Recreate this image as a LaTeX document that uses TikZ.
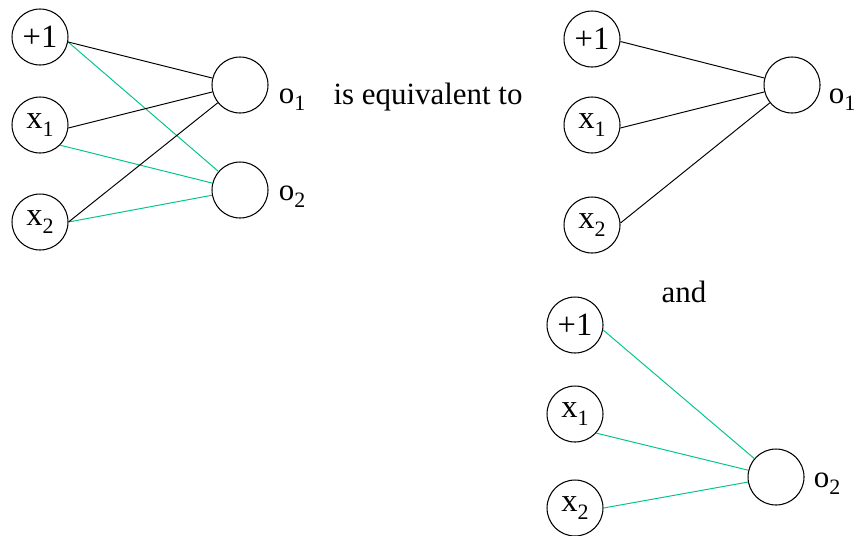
\documentclass[tikz,border=0pt]{standalone}
\usepackage{fontspec}
\setmainfont{Liberation Serif}
\usetikzlibrary{positioning,calc}
\definecolor{wgreen}{RGB}{0,196,140}
\newcommand{\lsub}[1]{\raisebox{-0.15cm}{\fontsize{12.5}{13}\selectfont #1}}

\begin{document}
\begin{tikzpicture}[
  x=0.02cm, y=-0.02cm,
  font=\fontsize{17.6}{20}\selectfont,
  unit/.style={circle, draw=black, line width=0.6pt, minimum size=1.12cm,
               inner sep=0pt, align=center, font=\fontsize{18.5}{20}\selectfont},
  lbl/.style={anchor=base west, inner sep=0pt},
  wone/.style={draw=black, line width=0.55pt},
  wtwo/.style={draw=wgreen, line width=0.55pt},
]
\useasboundingbox (0,0) rectangle (857,535);

% left: both outputs
\node[unit] (l0) at (40,37)  {+1};
\node[unit] (l1) at (40,125) {x\lsub{1}};
\node[unit] (l2) at (40,222) {x\lsub{2}};
\node[unit] (lo1) at (240,85)  {};
\node[unit] (lo2) at (240,190) {};
\node[lbl] at ($(lo1.east)+(10,18)$) {o\lsub{1}};
\node[lbl] at ($(lo2.east)+(10,10)$) {o\lsub{2}};

\draw[wtwo] (l0.-10) -- (lo2);
\draw[wtwo] (l1.-45) -- (lo2);
\draw[wtwo] (l2.east) -- (lo2);
\draw[wone] (l0.-10) -- (lo1);
\draw[wone] (l1.-6) -- (lo1);
\draw[wone] (l2.east) -- (lo1);

\node (eq) at (428,97) {is equivalent to};

% right top: first output
\node[unit] (a0) at (592,39)  {+1};
\node[unit] (a1) at (592,125) {x\lsub{1}};
\node[unit] (a2) at (592,225) {x\lsub{2}};
\node[unit] (ao1) at (792,85) {};
\node[lbl] at ($(ao1.east)+(8,18)$) {o\lsub{1}};

\draw[wone] (a0.-5) -- (ao1);
\draw[wone] (a1.-6) -- (ao1);
\draw[wone] (a2.4) -- (ao1);

\node (and) at (684,292) {and};

% right bottom: second output
\node[unit] (b0) at (575,325) {+1};
\node[unit] (b1) at (575,414) {x\lsub{1}};
\node[unit] (b2) at (575,508) {x\lsub{2}};
\node[unit] (bo2) at (776,477) {};
\node[lbl] at ($(bo2.east)+(9,10)$) {o\lsub{2}};

\draw[wtwo] (b0.-10) -- (bo2);
\draw[wtwo] (b1.-42) -- (bo2);
\draw[wtwo] (b2.east) -- (bo2);

\end{tikzpicture}
\end{document}
